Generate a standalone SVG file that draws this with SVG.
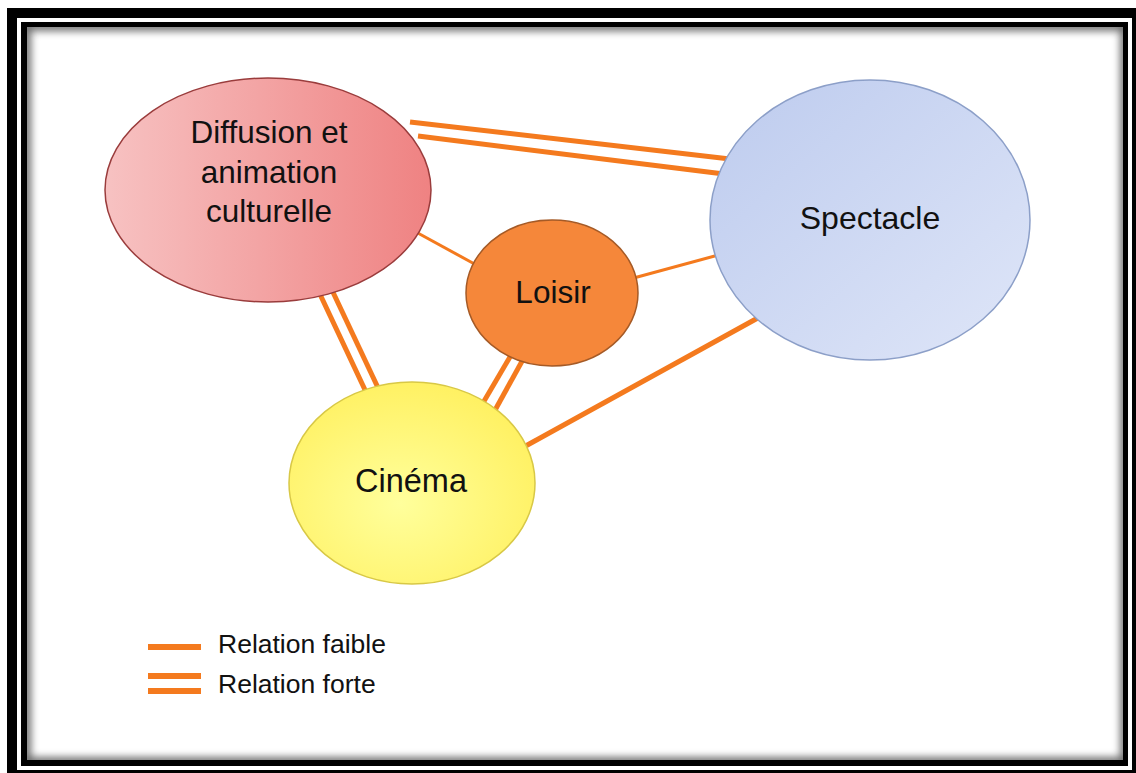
<svg xmlns="http://www.w3.org/2000/svg" width="1136" height="773" viewBox="0 0 1136 773">
<defs>
<style>
.lbl{font-family:"Liberation Sans",Arial,sans-serif;font-size:31.5px;fill:#111;text-anchor:middle}
.leg{font-family:"Liberation Sans",Arial,sans-serif;font-size:26.5px;fill:#111}
.c{stroke:#f47a1e;fill:none;stroke-linecap:butt}
.w5{stroke-width:5}
.w3{stroke-width:3}
.w6{stroke-width:6}
</style>
<clipPath id="inner"><rect x="27" y="27" width="1096" height="733"/></clipPath>
<filter id="blur" x="-5%" y="-5%" width="110%" height="110%"><feGaussianBlur stdDeviation="4"/></filter>
<linearGradient id="gDiff" x1="0" y1="0" x2="1" y2="0">
<stop offset="0" stop-color="#f7c2c2"/>
<stop offset="0.6" stop-color="#f29c9c"/>
<stop offset="1" stop-color="#ef8282"/>
</linearGradient>
<linearGradient id="gSpec" x1="0" y1="0" x2="1" y2="1">
<stop offset="0" stop-color="#bdcbee"/>
<stop offset="1" stop-color="#dfe6f8"/>
</linearGradient>
<radialGradient id="gCin" cx="0.45" cy="0.6" r="0.6">
<stop offset="0" stop-color="#ffff9c"/>
<stop offset="1" stop-color="#fff163"/>
</radialGradient>
</defs>
<g id="frame">
<rect x="7" y="8" width="1129" height="765" fill="#000"/>
<rect x="17" y="18" width="1115" height="752" fill="#fff"/>
<rect x="21" y="22" width="1107" height="744" fill="#000"/>
<rect x="27" y="27" width="1096" height="733" fill="#fff"/>
<g clip-path="url(#inner)">
<rect x="25" y="25" width="1100" height="737" fill="none" stroke="#000" stroke-width="8" opacity="0.5" filter="url(#blur)"/>
<rect x="27" y="27" width="1099" height="736" fill="none" stroke="#000" stroke-width="8" opacity="0.3" filter="url(#blur)"/>
</g>
</g>
<g id="connectors">
<line class="c w5" x1="410" y1="122" x2="730" y2="159"/>
<line class="c w5" x1="418" y1="136" x2="724" y2="174"/>
<line class="c w3" x1="405" y1="226" x2="480" y2="267"/>
<line class="c w3" x1="630" y1="279" x2="722" y2="254"/>
<line class="c w5" x1="318" y1="290" x2="366" y2="392"/>
<line class="c w5" x1="331" y1="288" x2="380" y2="392"/>
<line class="c w5" x1="514" y1="350" x2="480" y2="408"/>
<line class="c w5" x1="526" y1="354" x2="494" y2="412"/>
<line class="c w5" x1="765" y1="314" x2="522" y2="448"/>
</g>
<g id="diffusion">
<ellipse cx="268" cy="190" rx="163" ry="112" fill="url(#gDiff)" stroke="#9a3c3c" stroke-width="1.5"/>
<text class="lbl" x="269" y="143">Diffusion et</text>
<text class="lbl" x="269" y="183">animation</text>
<text class="lbl" x="269" y="222">culturelle</text>
</g>
<g id="spectacle">
<ellipse cx="870" cy="220" rx="160" ry="140" fill="url(#gSpec)" stroke="#8c9fc8" stroke-width="1.5"/>
<text class="lbl" x="870" y="229" style="font-size:32px">Spectacle</text>
</g>
<g id="loisir">
<ellipse cx="552" cy="293" rx="86" ry="73" fill="#f5873a" stroke="#a55a26" stroke-width="1.5"/>
<text class="lbl" x="553" y="303">Loisir</text>
</g>
<g id="cinema">
<ellipse cx="412" cy="483" rx="123" ry="101" fill="url(#gCin)" stroke="#d8c846" stroke-width="1.5"/>
<text class="lbl" x="411" y="492" style="font-size:32.5px">Cinéma</text>
</g>
<g id="legend">
<line class="c w6" x1="148" y1="647" x2="201" y2="647"/>
<line class="c w6" x1="148" y1="676" x2="201" y2="676"/>
<line class="c w6" x1="148" y1="691" x2="201" y2="691"/>
<text class="leg" x="218" y="653">Relation faible</text>
<text class="leg" x="218" y="693">Relation forte</text>
</g>
</svg>
